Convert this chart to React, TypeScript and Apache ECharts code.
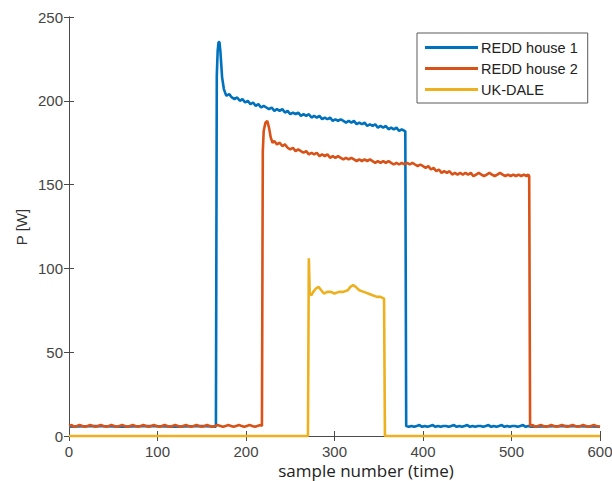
import React, { useEffect, useRef } from "react";
import * as echarts from "echarts";

// Power traces, [sample, watts]
const redd1: [number, number][] = [
  [0, 5.5], [30, 6], [60, 5.5], [90, 6], [120, 5.5], [150, 6], [166, 5.5],
  [167, 215], [168, 230], [169, 235], [170, 235], [171, 230], [172, 222], [173, 214], [175, 207], [177, 204],
  [178, 203], [181, 204], [184, 202], [187, 201], [190, 202], [193, 200], [196, 201], [199, 199], [202, 200],
  [205, 198], [208, 199], [211, 197], [214, 198], [217, 196], [220, 197], [223, 196], [226, 195], [229, 196],
  [232, 194], [235, 195], [238, 194], [241, 195], [244, 193], [247, 194], [250, 192], [253, 193], [256, 192],
  [259, 193], [262, 191], [265, 192], [268, 191], [271, 192], [274, 190], [277, 191], [280, 190], [283, 191],
  [286, 189], [289, 190], [292, 189], [295, 190], [298, 188], [301, 189], [304, 188], [307, 189], [310, 188],
  [313, 187], [316, 188], [319, 187], [322, 188], [325, 186], [328, 187], [331, 186], [334, 187], [337, 185],
  [340, 186], [343, 185], [346, 186], [349, 184], [352, 185], [355, 184], [358, 185], [361, 183], [364, 184],
  [367, 183], [370, 184], [373, 182], [376, 183], [379, 182], [380, 182],
  [381, 6], [384, 5.5], [387, 6], [390, 5.5], [393, 6], [396, 6.5], [399, 5.5], [402, 6], [405, 5.5], [408, 6],
  [411, 6.5], [414, 5.5], [417, 6], [420, 5.5], [423, 6], [426, 6], [429, 5.5], [432, 6], [435, 6.5], [438, 5.5],
  [441, 6], [444, 5.5], [447, 6], [450, 6.5], [453, 5.5], [456, 6], [459, 5.5], [462, 6], [465, 6], [468, 5.5],
  [471, 6], [474, 6.5], [477, 5.5], [480, 6], [483, 5.5], [486, 6], [489, 6.5], [492, 5.5], [495, 6], [498, 5.5],
  [501, 6], [504, 6], [507, 5.5], [510, 6], [513, 6.5], [516, 5.5], [519, 6], [522, 5.5], [560, 6], [600, 5.5],
];

const redd2: [number, number][] = [
  [0, 6], [3, 6.5], [6, 5.5], [9, 6], [12, 6.5], [15, 6], [18, 5.5], [21, 6], [24, 6.5], [27, 6], [30, 5.5],
  [33, 6], [36, 6.5], [39, 6], [42, 5.5], [45, 6], [48, 6.5], [51, 6], [54, 5.5], [57, 6], [60, 6.5], [63, 6],
  [66, 5.5], [69, 6], [72, 6.5], [75, 6], [78, 5.5], [81, 6], [84, 6.5], [87, 6], [90, 5.5], [93, 6], [96, 6.5],
  [99, 6], [102, 5.5], [105, 6], [108, 6.5], [111, 6], [114, 5.5], [117, 6], [120, 6.5], [123, 6], [126, 5.5],
  [129, 6], [132, 6.5], [135, 6], [138, 5.5], [141, 6], [144, 6.5], [147, 6], [150, 5.5], [153, 6], [156, 6.5],
  [159, 6], [162, 5.5], [165, 6], [168, 6.5], [171, 6], [174, 5.5], [177, 6], [180, 6.5], [183, 6], [186, 5.5],
  [189, 6], [192, 6.5], [195, 6], [198, 5.5], [201, 6], [204, 6.5], [207, 6], [210, 5.5], [213, 6], [216, 6.5],
  [218, 6],
  [219, 170], [220, 182], [222, 187], [224, 188], [226, 184], [228, 178], [230, 175], [232, 176], [235, 174],
  [238, 175], [241, 173], [244, 174], [247, 172], [250, 171], [253, 172], [256, 170], [259, 171], [262, 170],
  [265, 169], [268, 170], [271, 168], [274, 169], [277, 168], [280, 169], [283, 167], [286, 168], [289, 167],
  [292, 168], [295, 166], [298, 167], [301, 166], [304, 167], [307, 166], [310, 165], [313, 166], [316, 165],
  [319, 166], [322, 165], [325, 164], [328, 165], [331, 164], [334, 165], [337, 164], [340, 165], [343, 164],
  [346, 163], [349, 164], [352, 163], [355, 164], [358, 163], [361, 164], [364, 163], [367, 162], [370, 163],
  [373, 162], [376, 163], [379, 162], [382, 163], [385, 162], [388, 163], [391, 162], [394, 161], [397, 162],
  [400, 161], [403, 160], [406, 161], [409, 159], [412, 160], [415, 158], [418, 159], [421, 157], [424, 158],
  [427, 157], [430, 158], [433, 156], [436, 157], [439, 156], [442, 157], [445, 156], [448, 157], [451, 156],
  [454, 157], [457, 155], [460, 156], [463, 157], [466, 156], [469, 155], [472, 156], [475, 157], [478, 156],
  [481, 155], [484, 156], [487, 157], [490, 156], [493, 155], [496, 156], [499, 155], [502, 156], [505, 155],
  [508, 156], [511, 155], [514, 156], [517, 155], [519, 156], [520, 155],
  [521, 6], [524, 6.5], [527, 5.5], [530, 6], [533, 6.5], [536, 6], [539, 5.5], [542, 6], [545, 6.5], [548, 6],
  [551, 5.5], [554, 6], [557, 6.5], [560, 6], [563, 5.5], [566, 6], [569, 6.5], [572, 6], [575, 5.5], [578, 6],
  [581, 6.5], [584, 6], [587, 5.5], [590, 6], [593, 6.5], [596, 6], [600, 5.5],
];

const ukdale: [number, number][] = [
  [0, 0], [270, 0], [271, 106], [272, 85], [274, 84], [276, 86], [279, 88], [282, 89], [285, 87], [288, 85],
  [292, 86], [296, 86], [300, 85], [305, 86], [310, 86], [315, 87], [318, 89], [321, 90], [324, 89], [328, 87],
  [333, 86], [338, 85], [343, 84], [348, 83], [352, 83], [356, 82], [357, 0], [600, 0],
];

const seriesNames = ["REDD house 1", "REDD house 2", "UK-DALE"];
const seriesColors = ["#0072BD", "#D95319", "#EDB120"];
const seriesData = [redd1, redd2, ukdale];

const xTicks = { min: 0, max: 600, interval: 100 };
const yTicks = { min: 0, max: 250, interval: 50 };

const axisColor = "#4a4a4a";
const labelFont = "'Liberation Sans', Arial, sans-serif";

export default function App() {
  const ref = useRef<HTMLDivElement>(null);

  useEffect(() => {
    if (!ref.current) return;
    const chart = echarts.init(ref.current, undefined, { renderer: "svg" });

    const boxAxis = {
      axisLine: { show: true, lineStyle: { color: axisColor, width: 1 } },
      axisTick: { show: true, inside: true, length: 5, lineStyle: { color: axisColor } },
      splitLine: { show: false },
    };

    chart.setOption({
      animation: false,
      backgroundColor: "#ffffff",
      grid: { left: 69, right: 12, top: 17, bottom: 45, outerBoundsMode: "none", containLabel: false },
      xAxis: [
        {
          type: "value",
          ...xTicks,
          ...boxAxis,
          axisLabel: { color: "#444", fontFamily: labelFont, fontSize: 15, lineHeight: 15, margin: 8 },
        },
        {
          type: "value",
          position: "top",
          ...xTicks,
          ...boxAxis,
          axisLabel: { show: false },
        },
      ],
      yAxis: [
        {
          type: "value",
          ...yTicks,
          ...boxAxis,
          axisLabel: { color: "#444", fontFamily: labelFont, fontSize: 15, margin: 6 },
        },
        {
          type: "value",
          position: "right",
          ...yTicks,
          ...boxAxis,
          axisLabel: { show: false },
        },
      ],
      legend: {
        orient: "vertical",
        left: 417,
        top: 33,
        padding: [7, 10, 6, 8],
        itemGap: 6,
        itemWidth: 53,
        itemHeight: 3,
        icon: "rect",
        borderColor: "#5a5a5a",
        borderWidth: 1,
        backgroundColor: "#ffffff",
        textStyle: { color: "#222", fontFamily: labelFont, fontSize: 14.5, padding: [0, 0, 0, -2] },
        data: seriesNames,
      },
      series: seriesData.map((d, i) => ({
        name: seriesNames[i],
        type: "line",
        data: d,
        showSymbol: false,
        symbol: "none",
        clip: false,
        color: seriesColors[i],
        lineStyle: { color: seriesColors[i], width: 2.6 },
        z: 3 + i,
      })),
      graphic: [
        {
          type: "text",
          x: 21,
          y: 227,
          rotation: Math.PI / 2,
          style: {
            text: "P [W]",
            fill: "#333",
            font: `15px ${labelFont}`,
            textAlign: "center",
            textVerticalAlign: "middle",
          },
        },
        {
          type: "text",
          x: 366,
          y: 470,
          style: {
            text: "sample number (time)",
            fill: "#222",
            font: "17px 'Open Sans', sans-serif",
            lineHeight: 18,
            textAlign: "center",
            textVerticalAlign: "middle",
          },
        },
      ],
    });

    return () => chart.dispose();
  }, []);

  return (
    <div
      ref={ref}
      style={{ position: "absolute", left: 0, top: 0, width: 612, height: 481 }}
    />
  );
}
